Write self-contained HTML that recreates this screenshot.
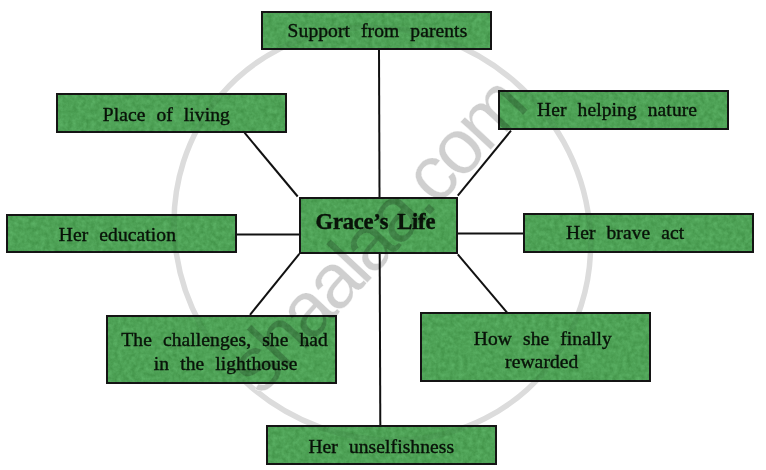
<!DOCTYPE html>
<html><head><meta charset="utf-8">
<style>
html,body{margin:0;padding:0;background:#fff;}
body{width:766px;height:470px;position:relative;overflow:hidden;font-family:"Liberation Serif",serif;}
svg{position:absolute;left:0;top:0;}
.b{position:absolute;box-sizing:border-box;border:2px solid #141414;background:#4ea256;}
.t{position:absolute;white-space:pre;color:#081208;font-size:19.5px;line-height:19.5px;letter-spacing:0.1px;-webkit-text-stroke:0.4px #081208;}
</style></head><body>
<svg width="766" height="470" viewBox="0 0 766 470">
<ellipse cx="0" cy="0" rx="212.9" ry="201.7" transform="translate(382.3,233.7) rotate(40.4)" fill="none" stroke-width="5.5" stroke="#dcdcdc"/>
<text x="0" y="0" transform="translate(260.76,397.2) rotate(-47.1)" font-family="Liberation Sans" font-size="78.0" letter-spacing="-4.5" fill="#cfcfcf" stroke="#fff" stroke-width="0.3">shaalaa.com</text>
<g stroke="#111" stroke-width="2" fill="none">
<line x1="379" y1="50" x2="380.3" y2="426"/>
<line x1="244.5" y1="132.7" x2="297.7" y2="196.5"/>
<line x1="511" y1="130.6" x2="457.8" y2="195.7"/>
<line x1="299.3" y1="253.9" x2="250" y2="314.8"/>
<line x1="457.8" y1="254.4" x2="507.1" y2="312.7"/>
<line x1="236" y1="234.4" x2="299" y2="234.4"/>
<line x1="457" y1="233.6" x2="524" y2="233.6"/>
</g></svg>
<div class="b" style="left:261px;top:11px;width:231px;height:39px;"></div>
<div class="b" style="left:56px;top:93px;width:231px;height:40px;"></div>
<div class="b" style="left:498px;top:90px;width:231px;height:40px;"></div>
<div class="b" style="left:299px;top:197px;width:159px;height:57px;"></div>
<div class="b" style="left:6px;top:214px;width:231px;height:39px;"></div>
<div class="b" style="left:523px;top:213px;width:231px;height:39.5px;"></div>
<div class="b" style="left:106px;top:315px;width:231px;height:69px;"></div>
<div class="b" style="left:420px;top:312px;width:231px;height:70px;"></div>
<div class="b" style="left:266px;top:425px;width:230.5px;height:40px;"></div>
<div class="t" style="left:287.6px;top:20.90px;word-spacing:6px;">Support from parents</div>
<div class="t" style="left:102.7px;top:104.50px;word-spacing:6px;">Place of living</div>
<div class="t" style="left:537.1px;top:100.40px;word-spacing:6px;">Her helping nature</div>
<div class="t" style="left:315.6px;top:211.90px;word-spacing:3.5px;font-weight:bold;font-size:22.5px;letter-spacing:-0.2px;">Grace’s Life</div>
<div class="t" style="left:58.8px;top:225.20px;word-spacing:6px;">Her education</div>
<div class="t" style="left:566px;top:223.00px;word-spacing:6px;">Her brave act</div>
<div class="t" style="left:121.3px;top:330.10px;word-spacing:6px;">The challenges, she had</div>
<div class="t" style="left:153.8px;top:353.90px;word-spacing:6px;">in the lighthouse</div>
<div class="t" style="left:473.8px;top:328.80px;word-spacing:6px;">How she finally</div>
<div class="t" style="left:505.1px;top:352.20px;word-spacing:6px;">rewarded</div>
<div class="t" style="left:308.4px;top:437.00px;word-spacing:6px;">Her unselfishness</div>
<svg width="766" height="470" viewBox="0 0 766 470" style="mix-blend-mode:overlay;opacity:0.22">
<defs><clipPath id="ct"><rect x="262" y="12" width="229" height="37"/><rect x="57" y="94" width="229" height="38"/><rect x="499" y="91" width="229" height="38"/><rect x="300" y="198" width="157" height="55"/><rect x="7" y="215" width="229" height="37"/><rect x="524" y="214" width="229" height="37.5"/><rect x="107" y="316" width="229" height="67"/><rect x="421" y="313" width="229" height="68"/><rect x="267" y="426" width="228.5" height="38"/></clipPath>
<filter id="nz" x="0" y="0" width="100%" height="100%" color-interpolation-filters="sRGB"><feTurbulence type="fractalNoise" baseFrequency="0.22" numOctaves="3" seed="3"/><feColorMatrix type="matrix" values="1.0 0 0 0 0.0  1.0 0 0 0 0.0  1.0 0 0 0 0.0  0 0 0 0 1"/></filter></defs>
<g clip-path="url(#ct)"><rect x="0" y="0" width="766" height="470" filter="url(#nz)"/></g></svg>
<svg width="766" height="470" viewBox="0 0 766 470" style="mix-blend-mode:multiply">
<defs><clipPath id="cb"><rect x="261" y="11" width="231" height="39"/><rect x="56" y="93" width="231" height="40"/><rect x="498" y="90" width="231" height="40"/><rect x="299" y="197" width="159" height="57"/><rect x="6" y="214" width="231" height="39"/><rect x="523" y="213" width="231" height="39.5"/><rect x="106" y="315" width="231" height="69"/><rect x="420" y="312" width="231" height="70"/><rect x="266" y="425" width="230.5" height="40"/></clipPath></defs>
<g clip-path="url(#cb)">
<ellipse cx="0" cy="0" rx="212.9" ry="201.7" transform="translate(382.3,233.7) rotate(40.4)" fill="none" stroke-width="5.5" stroke="#f2f2f2"/>
<text x="0" y="0" transform="translate(260.76,397.2) rotate(-47.1)" font-family="Liberation Sans" font-size="78.0" letter-spacing="-4.5" fill="#cacaca" stroke="#fff" stroke-width="0.3">shaalaa.com</text>
</g></svg>
</body></html>
